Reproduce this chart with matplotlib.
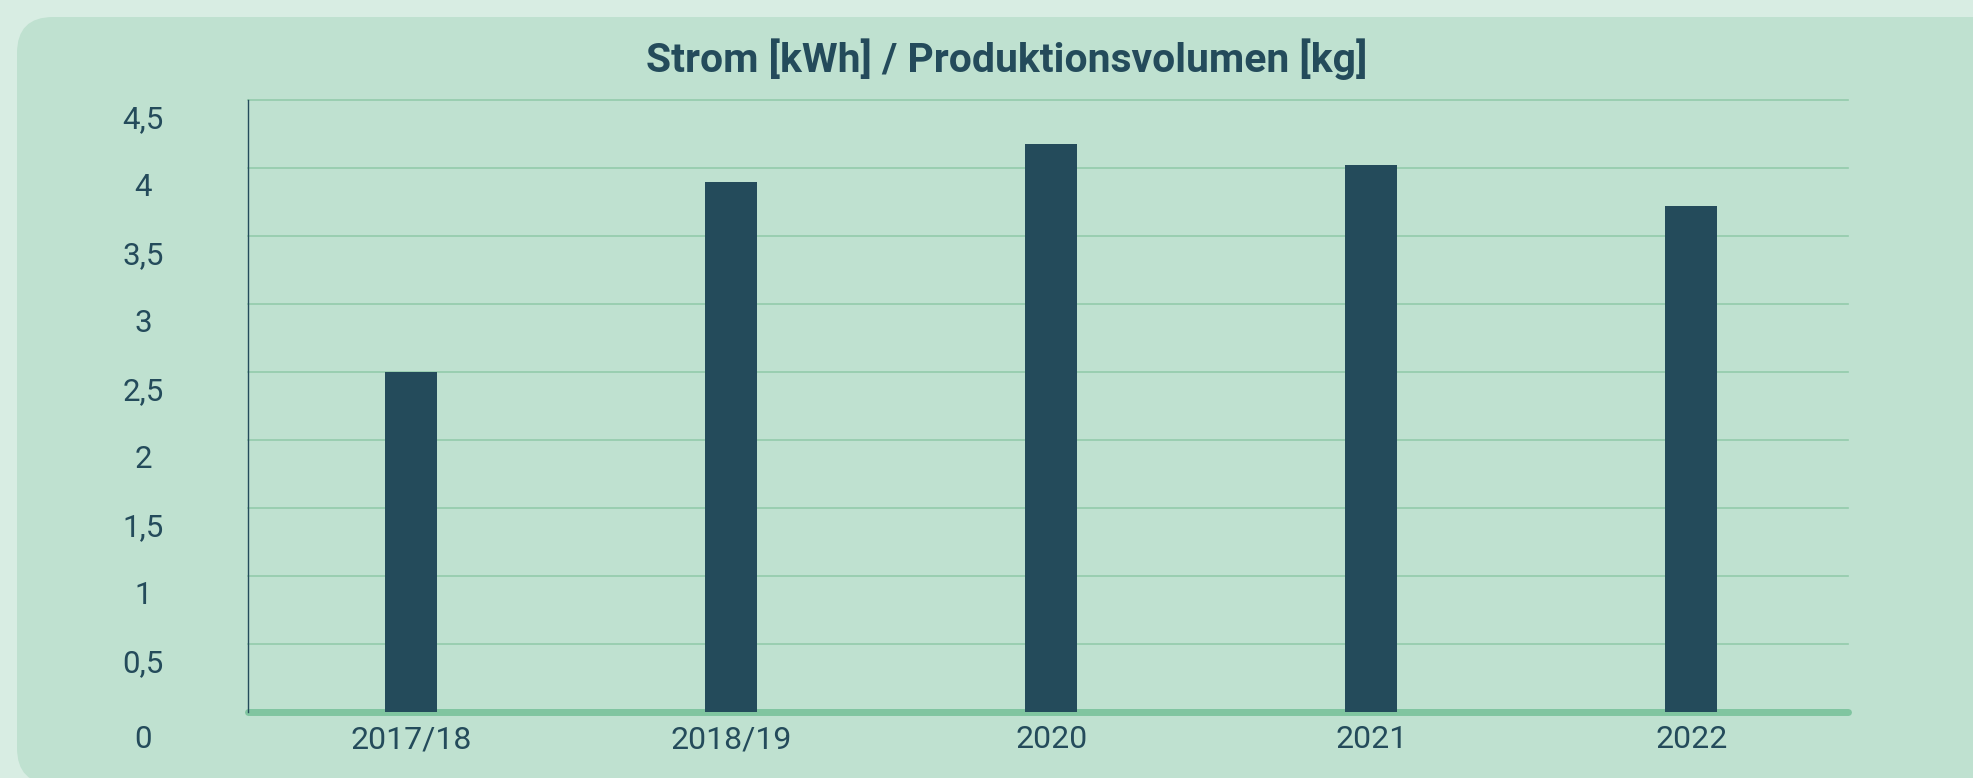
import matplotlib
matplotlib.use("Agg")
import matplotlib.pyplot as plt
from matplotlib.patches import FancyBboxPatch
from matplotlib.transforms import IdentityTransform, ScaledTranslation

# Daten
jahre = ["2017/18", "2018/19", "2020", "2021", "2022"]
strom_pro_kg = [2.5, 3.9, 4.18, 4.02, 3.72]
y_ticks = [0, 0.5, 1, 1.5, 2, 2.5, 3, 3.5, 4, 4.5]
y_tick_labels = ["0", "0,5", "1", "1,5", "2", "2,5", "3", "3,5", "4", "4,5"]
titel = "Strom [kWh] / Produktionsvolumen [kg]"

# Farben
bg_outer = "#d8ede3"
bg_card = "#bfe1d0"
dunkel = "#244b5b"
grid_farbe = "#93cbab"
achse_farbe = "#80c5a0"

plt.rcParams["font.family"] = ["Roboto", "DejaVu Sans"]

W, H, DPI = 1973, 778, 100
fig = plt.figure(figsize=(W / DPI, H / DPI), dpi=DPI, facecolor=bg_outer)

# abgerundete Karte im Hintergrund (Pixelkoordinaten, Ursprung unten links)
card = FancyBboxPatch((17, -6), 2100, 767, boxstyle="round,pad=0,rounding_size=36",
                      transform=IdentityTransform(), facecolor=bg_card, edgecolor="none", zorder=-5)
fig.patches.append(card)

ax = fig.add_axes([248 / W, (H - 712) / H, 1600 / W, 612 / H])
ax.set_facecolor("none")
ax.set_zorder(2)

x = list(range(len(jahre)))
ax.bar(x, strom_pro_kg, width=0.1625, color=dunkel, zorder=3)

ax.set_xlim(-0.51, len(jahre) - 0.51)
ax.set_ylim(0, 4.5)

# Gitterlinien (ohne 0, dort liegt die dicke Grundlinie)
for t in y_ticks[1:]:
    ax.axhline(t, color=grid_farbe, lw=1.2, zorder=1, clip_on=False)
ax.axhline(0, color=achse_farbe, lw=5, solid_capstyle="round", zorder=2, clip_on=False)

for s in ["top", "right", "bottom"]:
    ax.spines[s].set_visible(False)
ax.spines["left"].set_color(dunkel)
ax.spines["left"].set_linewidth(1.0)
ax.spines["left"].set_zorder(4)

ax.set_xticks(x)
ax.set_xticklabels(jahre, fontsize=23, color=dunkel)
ax.set_yticks(y_ticks)
ax.set_yticklabels(y_tick_labels, fontsize=22.5, color=dunkel)
ax.tick_params(axis="x", length=0, pad=9.5)
ax.tick_params(axis="y", length=0, pad=75.6)

# Y-Beschriftungen zentriert und leicht nach unten versetzt wie im Original
for val, lab in zip(y_ticks, ax.get_yticklabels()):
    lab.set_horizontalalignment("center")
    dy = 24 if val == 0 else 17
    lab.set_transform(lab.get_transform() + ScaledTranslation(0, -dy / DPI, fig.dpi_scale_trans))

fig.text(1007 / W, 1 - 59 / H, titel, ha="center", va="center",
         fontsize=29.4, fontweight="bold", color=dunkel)

fig.savefig("out.png", dpi=DPI, facecolor=bg_outer)
